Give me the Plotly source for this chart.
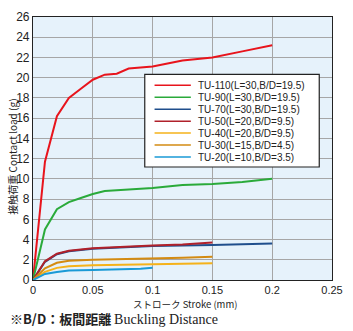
import plotly.graph_objects as go

# Stroke (mm) vs contact load (g) for each model
names = ["TU-110(L=30,B/D=19.5)", "TU-90(L=30,B/D=19.5)", "TU-70(L=30,B/D=19.5)",
         "TU-50(L=20,B/D=9.5)", "TU-40(L=20,B/D=9.5)", "TU-30(L=15,B/D=4.5)",
         "TU-20(L=10,B/D=3.5)"]
colors = ["#e8141c", "#2aaa3a", "#1f4e8c", "#b0212b", "#f5b21a", "#d38b12", "#1a9ad6"]

tu110_x = [0, 0.01, 0.02, 0.03, 0.04, 0.05, 0.06, 0.07, 0.08, 0.09, 0.1, 0.125, 0.15, 0.175, 0.2]
tu110_y = [0, 11.7, 16.2, 18.0, 18.9, 19.8, 20.3, 20.4, 20.9, 21.0, 21.1, 21.7, 22.0, 22.6, 23.2]

tu90_x = [0, 0.01, 0.02, 0.03, 0.04, 0.05, 0.06, 0.075, 0.1, 0.125, 0.15, 0.175, 0.2]
tu90_y = [0, 5.0, 7.0, 7.7, 8.1, 8.5, 8.8, 8.9, 9.1, 9.4, 9.5, 9.7, 10.0]

tu70_x = [0, 0.01, 0.02, 0.03, 0.05, 0.075, 0.1, 0.15, 0.2]
tu70_y = [0, 1.8, 2.55, 2.85, 3.1, 3.25, 3.35, 3.45, 3.6]

tu50_x = [0, 0.01, 0.02, 0.03, 0.05, 0.075, 0.1, 0.125, 0.15]
tu50_y = [0, 1.85, 2.6, 2.9, 3.15, 3.3, 3.4, 3.5, 3.7]

tu40_x = [0, 0.01, 0.02, 0.03, 0.05, 0.075, 0.1, 0.125, 0.15]
tu40_y = [0, 0.8, 1.2, 1.35, 1.45, 1.5, 1.55, 1.6, 1.65]

tu30_x = [0, 0.01, 0.02, 0.03, 0.05, 0.075, 0.1, 0.125, 0.15]
tu30_y = [0, 1.15, 1.7, 1.9, 2.0, 2.05, 2.15, 2.2, 2.3]

tu20_x = [0, 0.01, 0.02, 0.03, 0.05, 0.075, 0.09, 0.1]
tu20_y = [0, 0.6, 0.8, 0.95, 1.0, 1.05, 1.1, 1.2]

xs = [tu110_x, tu90_x, tu70_x, tu50_x, tu40_x, tu30_x, tu20_x]
ys = [tu110_y, tu90_y, tu70_y, tu50_y, tu40_y, tu30_y, tu20_y]

W, H = 353, 331
ML, MR, MT, MB = 33, 15, 10, 51
PW, PH = W - ML - MR, H - MT - MB


def px(x):
    return (x - ML) / PW


def py(y):
    return (H - MB - y) / PH


fig = go.Figure()
for name, color, x, y in zip(names, colors, xs, ys):
    fig.add_trace(go.Scatter(x=x, y=y, mode="lines", name=name,
                             line=dict(color=color, width=2), showlegend=False))

sans = "Liberation Sans"
cjk = "Noto Sans CJK JP"

shapes = []
annotations = []

# legend box with a sample line and label per series
shapes.append(dict(type="rect", xref="paper", yref="paper",
                   x0=px(147), x1=px(325), y0=py(164), y1=py(69),
                   fillcolor="white", line=dict(color="#222222", width=1.2), layer="above"))
row0, step = 80, 12.3
for i, (name, color) in enumerate(zip(names, colors)):
    yy = py(row0 + i * step)
    shapes.append(dict(type="line", xref="paper", yref="paper",
                       x0=px(157), x1=px(194), y0=yy, y1=yy,
                       line=dict(color=color, width=1.5), layer="above"))
    annotations.append(dict(text=name, x=px(199), y=yy, xref="paper", yref="paper",
                            xanchor="left", yanchor="middle", showarrow=False,
                            font=dict(family=sans, size=10, color="#222222")))

annotations += [
    dict(text="ストローク Stroke (mm)", x=px(188), y=py(305), xref="paper", yref="paper",
         xanchor="center", yanchor="middle", showarrow=False,
         font=dict(family=cjk, size=9.5, color="#222222")),
    dict(text="接触荷重 Contact load (g)", x=px(12), y=py(153), xref="paper", yref="paper",
         textangle=-90, xanchor="center", yanchor="middle", showarrow=False,
         font=dict(family=cjk, size=10, color="#222222")),
    dict(text="<b>※B/D：板間距離</b> <span style='font-family:Liberation Serif;font-size:14px'>Buckling Distance</span>",
         x=px(7), y=py(320), xref="paper", yref="paper", xanchor="left", yanchor="middle",
         showarrow=False, font=dict(family=cjk, size=13, color="#222222")),
]

fig.update_layout(
    width=W, height=H,
    margin=dict(l=ML, r=MR, t=MT, b=MB),
    paper_bgcolor="white",
    plot_bgcolor="#e6f2fb",
    font=dict(family=sans, size=12, color="#222222"),
    showlegend=False,
    xaxis=dict(range=[0, 0.25], dtick=0.05, showgrid=True, gridcolor="#a6a6a6",
               gridwidth=1, zeroline=False, showline=True, linecolor="#222222",
               linewidth=1.2, mirror=True, ticks="", tickfont=dict(size=11)),
    yaxis=dict(range=[0, 26], dtick=2, showgrid=True, gridcolor="#a6a6a6",
               gridwidth=1, zeroline=False, showline=True, linecolor="#222222",
               linewidth=1.2, mirror=True, ticks="", tickfont=dict(size=12)),
    shapes=shapes,
    annotations=annotations,
)

fig.write_html("out.html")
